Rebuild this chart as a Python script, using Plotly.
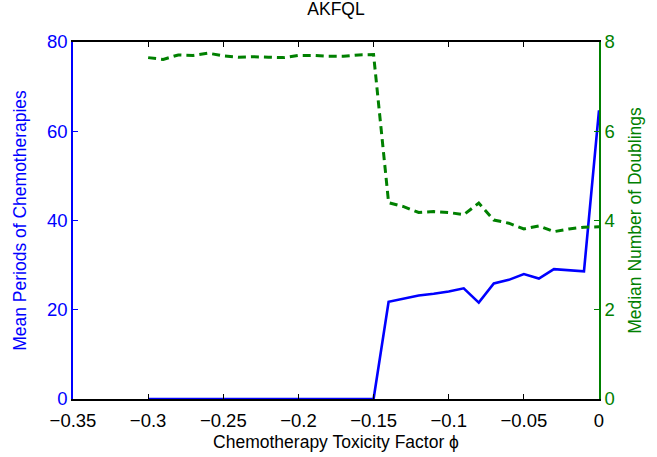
import plotly.graph_objects as go

phi = [-0.30, -0.29, -0.28, -0.27, -0.26, -0.25, -0.24, -0.23, -0.22, -0.21,
       -0.20, -0.19, -0.18, -0.17, -0.16, -0.15, -0.14, -0.13, -0.12, -0.11,
       -0.10, -0.09, -0.08, -0.07, -0.06, -0.05, -0.04, -0.03, -0.02, -0.01, 0.0]

mean_periods = [0, 0, 0, 0, 0, 0, 0, 0, 0, 0,
                0, 0, 0, 0, 0, 0, 21.8, 22.5, 23.2, 23.6,
                24.1, 24.8, 21.6, 25.9, 26.7, 28.0, 27.0, 29.1, 28.9, 28.6, 64.7]

median_doublings = [7.65, 7.61, 7.71, 7.70, 7.75, 7.69, 7.66, 7.67, 7.66, 7.65,
                    7.70, 7.70, 7.68, 7.68, 7.71, 7.72, 4.40, 4.31, 4.18, 4.20,
                    4.18, 4.13, 4.39, 4.01, 3.94, 3.81, 3.88, 3.75, 3.81, 3.85, 3.86]

x_ticks = [-0.35, -0.3, -0.25, -0.2, -0.15, -0.1, -0.05, 0]
x_labels = ["\u22120.35", "\u22120.3", "\u22120.25", "\u22120.2", "\u22120.15", "\u22120.1", "\u22120.05", "0"]

BLUE = "#0000FF"
GREEN = "#008000"
FONT = "Liberation Sans, Arial, sans-serif"

fig = go.Figure()
fig.add_trace(go.Scatter(x=phi, y=mean_periods, mode="lines",
                         line=dict(color=BLUE, width=2.6), yaxis="y", showlegend=False))
fig.add_trace(go.Scatter(x=phi, y=median_doublings, mode="lines",
                         line=dict(color=GREEN, width=3, dash="8px,5px"), yaxis="y2", showlegend=False))

fig.update_layout(
    width=657, height=457,
    margin=dict(l=73, r=58, t=42, b=58),
    paper_bgcolor="white", plot_bgcolor="white",
    font=dict(family=FONT, size=17, color="black"),
    title=dict(text="AKFQL", x=0.5, xref="paper", xanchor="center",
               y=1, yref="container", yanchor="top", pad=dict(t=3),
               font=dict(size=17.5, color="black")),
    xaxis=dict(range=[-0.35, 0], tickvals=x_ticks, ticktext=x_labels,
               ticks="inside", ticklen=5, tickwidth=1, tickcolor="black",
               showline=True, linecolor="black", linewidth=1.5, mirror="ticks",
               showgrid=False, zeroline=False, ticklabelstandoff=4, automargin=False,
               tickfont=dict(size=18.5, color="black"),
               title=dict(text="Chemotherapy Toxicity Factor \u03d5", font=dict(size=17.5), standoff=6)),
    yaxis=dict(range=[0, 80], tickvals=[0, 20, 40, 60, 80],
               ticks="inside", ticklen=5, tickcolor=BLUE,
               showline=True, linecolor=BLUE, linewidth=1.5,
               showgrid=False, zeroline=False, automargin=False,
               tickfont=dict(size=18.5, color=BLUE),
               title=dict(text="Mean Periods of Chemotherapies", font=dict(size=17.5, color=BLUE), standoff=16)),
    yaxis2=dict(range=[0, 8], tickvals=[0, 2, 4, 6, 8], overlaying="y", side="right",
                ticks="inside", ticklen=5, tickcolor=GREEN,
                showline=True, linecolor=GREEN, linewidth=1.5,
                showgrid=False, zeroline=False, automargin=False,
                tickfont=dict(size=18.5, color=GREEN),
                title=dict(text="Median Number of Doublings", font=dict(size=17.5, color=GREEN), standoff=15)),
)

fig.write_html("out.html")
